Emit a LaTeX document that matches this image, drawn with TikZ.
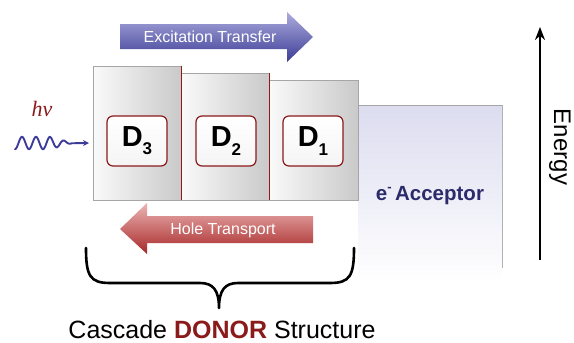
\documentclass[tikz,border=0pt]{standalone}
\usepackage{fontspec}
\setmainfont{Liberation Sans}
\newfontfamily\hvserif{Liberation Serif}
\usetikzlibrary{arrows.meta,shadings}
\definecolor{dred}{HTML}{8B1A1A}
\definecolor{navy}{HTML}{2B2B6B}
\definecolor{wavecol}{HTML}{3C3C9A}
\definecolor{exctop}{HTML}{ACACDE}
\definecolor{excbot}{HTML}{3C3C96}
\definecolor{holetop}{HTML}{ECB4B4}
\definecolor{holebot}{HTML}{A82828}
\definecolor{acctop}{HTML}{DCDCF0}
\tikzset{
  levelbox/.style={left color=white!96!gray, right color=gray!42, draw=gray!70, line width=0.6pt},
  donorbox/.style={draw=dred, line width=1.2pt, rounded corners=6pt, top color=white, bottom color=gray!8, minimum width=60pt, minimum height=50pt, inner sep=0pt},
  dlabel/.style={font=\fontsize{29}{30}\selectfont\bfseries},
  arrowtext/.style={font=\fontsize{16}{18}\selectfont, text=white},
}
\newcommand{\dsub}[1]{D\raisebox{-0.28em}{\fontsize{17}{17}\selectfont #1}}
\begin{document}
\begin{tikzpicture}[x=1pt,y=1pt]
\useasboundingbox (0,0) rectangle (574,-343);
% acceptor box
\shade[top color=acctop, bottom color=white] (358,-105) rectangle (502,-282);
\draw[gray!70, line width=0.6pt] (358,-105) -- (502,-105);
\draw[gray!60, line width=0.6pt] (502,-105) -- (502,-268);
% donor level boxes
\path[levelbox] (93,-66) rectangle (181,-200);
\path[levelbox] (181,-73) rectangle (269,-200);
\path[levelbox] (269,-80) rectangle (358,-200);
\draw[dred, line width=1pt] (181,-66) -- (181,-200);
\draw[dred, line width=1pt] (269,-73) -- (269,-200);
% donor nodes
\node[donorbox] (d3) at (137,-141) {};
\node[donorbox] (d2) at (226,-141) {};
\node[donorbox] (d1) at (313,-141) {};
\node[dlabel] (l3) at (d3) {\dsub{3}};
\node[dlabel] (l2) at (d2) {\dsub{2}};
\node[dlabel] (l1) at (d1) {\dsub{1}};
% acceptor label
\node[font=\fontsize{20.5}{22}\selectfont\bfseries, text=navy] (acc) at (430,-196) {e\raisebox{0.45em}{\fontsize{13}{13}\selectfont -}\,Acceptor};
% excitation transfer arrow
\shade[top color=exctop, bottom color=excbot] (120,-24) -- (287,-24) -- (287,-12) -- (313,-37) -- (287,-62) -- (287,-49) -- (120,-49) -- cycle;
\node[arrowtext] (exc) at (210,-37) {Excitation Transfer};
% hole transport arrow
\shade[top color=holetop, bottom color=holebot] (313,-216) -- (147,-216) -- (147,-203) -- (120,-229) -- (147,-254) -- (147,-243) -- (313,-243) -- cycle;
\node[arrowtext] (hole) at (223,-230) {Hole Transport};
% photon
\node[font=\hvserif\itshape\fontsize{22}{24}\selectfont, text=dred] (hv) at (42,-109) {hv};
\coordinate (we) at (89,-143);
\draw[wavecol, line width=1.9pt, line cap=round, line join=round, -{Stealth[length=6pt,width=6pt]}]
  plot[domain=15:72, samples=120, smooth] (\x, {-143 - 6.2*cos(25.714*(\x-15))*(\x<50 ? 1 : (73-\x)/23)}) -- (we);
% brace
\draw[line width=2.6pt, line cap=round, line join=round]
  (86,-248) .. controls (86,-276) and (90,-283) .. (110,-283) -- (200,-283)
  .. controls (213,-283) and (219,-290) .. (219,-308)
  .. controls (219,-290) and (225,-283) .. (238,-283) -- (330,-283)
  .. controls (350,-283) and (354,-276) .. (354,-248);
\node[font=\fontsize{25}{27}\selectfont, anchor=base, inner sep=0pt] (cap) at (222,-338) {Cascade \textcolor{dred}{\bfseries DONOR} Structure};
% energy axis
\coordinate (eb) at (540,-260);
\coordinate (et) at (540,-27);
\draw[line width=2pt, -{Stealth[length=13pt,width=10pt]}] (eb) -- (et);
\node[font=\fontsize{24}{26}\selectfont, rotate=-90] (energy) at (560,-147) {Energy};
\end{tikzpicture}
\end{document}
